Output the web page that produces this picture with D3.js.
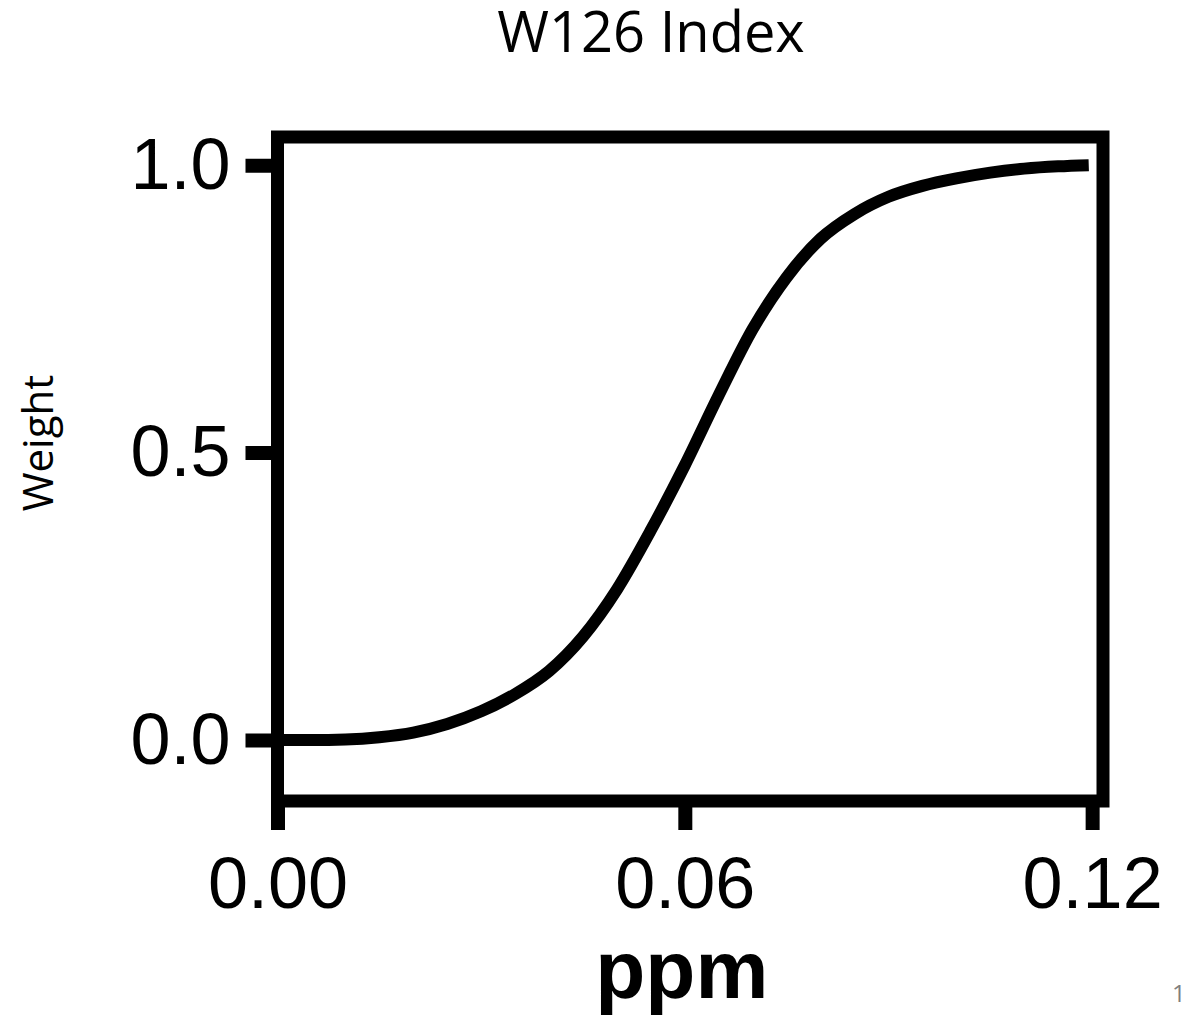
<!DOCTYPE html>
<html>
<head>
<meta charset="utf-8">
<script src="https://cdn.jsdelivr.net/npm/d3@7"></script>
<style>
  body { margin: 0; background: #fff; }
  svg { display: block; }
</style>
</head>
<body>
<svg width="1183" height="1023"></svg>
<script>
// values: ozone concentration (ppm) vs weight
const ppm = [0, 0.005, 0.010, 0.015, 0.020, 0.025, 0.030, 0.035, 0.040, 0.045, 0.050,
             0.055, 0.060, 0.065, 0.070, 0.075, 0.080, 0.085, 0.090, 0.095, 0.100,
             0.105, 0.110, 0.115, 0.1195];
const weight = [0, 0, 0.001, 0.005, 0.013, 0.028, 0.05, 0.08, 0.12, 0.18, 0.262,
                0.365, 0.478, 0.6, 0.715, 0.805, 0.872, 0.915, 0.945, 0.964, 0.977,
                0.987, 0.994, 0.998, 1.0];
const xTicks = [0, 0.06, 0.12];
const yTicks = [0, 0.5, 1.0];
const xDomain = [0, 0.1216];
const yDomain = [-0.106, 1.049];

const svg = d3.select("svg");

const x = d3.scaleLinear().domain(xDomain).range([277.5, 1103]),
    y = d3.scaleLinear().domain(yDomain).range([801, 137]);

const tickFont = "'Liberation Sans', Arial, sans-serif";

// title
svg.append("text")
    .attr("x", 651)
    .attr("y", 52)
    .attr("text-anchor", "middle")
    .style("font-family", "'Open Sans', sans-serif")
    .style("font-size", "56px")
    .text("W126 Index");

// y axis title
svg.append("text")
    .attr("transform", "translate(53,443) rotate(-90)")
    .attr("text-anchor", "middle")
    .style("font-family", "'Open Sans', sans-serif")
    .style("font-size", "42px")
    .text("Weight");

// y axis
const yAxis = svg.append("g")
    .attr("transform", `translate(${x(0)},0)`)
    .call(d3.axisLeft(y).tickValues(yTicks).tickFormat(d3.format(".1f"))
        .tickSize(32).tickSizeOuter(0).tickPadding(15));
yAxis.select(".domain").remove();
yAxis.selectAll(".tick line").attr("stroke", "#000").attr("stroke-width", 14);
yAxis.selectAll(".tick text")
    .attr("fill", "#000")
    .style("font-family", tickFont)
    .style("font-size", "72px");

// x axis
const xAxis = svg.append("g")
    .attr("transform", `translate(0,${y(yDomain[0])})`)
    .call(d3.axisBottom(x).tickValues(xTicks).tickFormat(d3.format(".2f"))
        .tickSize(29).tickSizeOuter(0).tickPadding(27));
xAxis.select(".domain").remove();
xAxis.selectAll(".tick line").attr("stroke", "#000").attr("stroke-width", 14);
xAxis.selectAll(".tick text")
    .attr("fill", "#000")
    .style("font-family", tickFont)
    .style("font-size", "72px");

// x axis title
svg.append("text")
    .attr("x", x(0.06) - 3)
    .attr("y", 998)
    .attr("text-anchor", "middle")
    .style("font-family", tickFont)
    .style("font-size", "82px")
    .style("font-weight", "bold")
    .text("ppm");

// the curve
const line = d3.line()
    .x((d, i) => x(ppm[i]))
    .y(d => y(d))
    .curve(d3.curveMonotoneX);

svg.append("path")
    .datum(weight)
    .attr("fill", "none")
    .attr("stroke", "#000")
    .attr("stroke-width", 12)
    .attr("stroke-linejoin", "round")
    .attr("d", line);

// frame
svg.append("rect")
    .attr("x", x(xDomain[0]))
    .attr("y", y(yDomain[1]))
    .attr("width", x(xDomain[1]) - x(xDomain[0]))
    .attr("height", y(yDomain[0]) - y(yDomain[1]))
    .attr("fill", "none")
    .attr("stroke", "#000")
    .attr("stroke-width", 13);

// slide number
svg.append("text")
    .attr("x", 1172)
    .attr("y", 1002)
    .attr("fill", "#7f7f7f")
    .style("font-family", "'Open Sans', sans-serif")
    .style("font-size", "24px")
    .text("1");
</script>
</body>
</html>
